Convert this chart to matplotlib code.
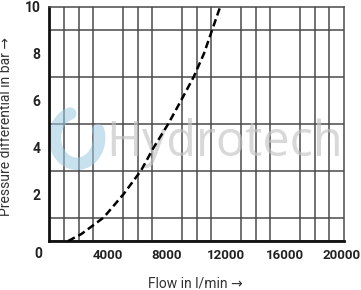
import matplotlib
matplotlib.use("Agg")
import matplotlib.pyplot as plt
import matplotlib.transforms as mtransforms
import numpy as np

flow = [1300, 2200, 3700, 5050, 6230, 7100, 8080, 8950, 9800, 10500, 11050, 11600]
pressure = [0, 0.3, 1, 2, 3, 4, 5, 6, 7, 8, 9, 10]
xticks = [4000, 8000, 12000, 16000, 20000]
yticks = [2, 4, 6, 8, 10]

fam = ['Liberation Sans Narrow', 'Roboto', 'DejaVu Sans']

fig = plt.figure(figsize=(3.61, 2.90), dpi=100)
ax = fig.add_axes([49/361, 49/290, 295/361, 234/290])
ax.set_xlim(0, 20000)
ax.set_ylim(0, 10)

ax.set_xticks(np.arange(0, 20001, 1000), minor=True)
ax.set_yticks(np.arange(0, 11, 1), minor=True)
ax.grid(which='minor', color='#4a4a4a', linewidth=1.1)
ax.set_axisbelow(True)
ax.set_xticks(xticks)
ax.set_yticks(yticks)
ax.tick_params(which='both', length=0)
ax.tick_params(axis='x', pad=6)
ax.tick_params(axis='y', pad=6)
for lab in ax.get_xticklabels():
    lab.set_family(fam)
    lab.set_fontweight('bold')
    lab.set_fontsize(9.5)
    lab.set_color('#222222')
for lab in ax.get_yticklabels():
    lab.set_family(fam)
    lab.set_fontweight('bold')
    lab.set_fontsize(10)
    lab.set_color('#222222')
last = ax.get_xticklabels()[-1]
last.set_transform(last.get_transform() +
                   mtransforms.ScaledTranslation(-2.5/100, 0, fig.dpi_scale_trans))
ax.text(-700, -0.55, '0', ha='center', va='center', fontsize=10, fontweight='bold',
        family=fam, color='#222222')

for s in ['left', 'bottom']:
    ax.spines[s].set_linewidth(2.0)
    ax.spines[s].set_color('#111111')
for s in ['top', 'right']:
    ax.spines[s].set_linewidth(1.1)
    ax.spines[s].set_color('#4a4a4a')

# watermark
ax.text(11900, 4.2, 'Hydrotech', ha='center', va='center', fontsize=35,
        color='#c4c4c4', alpha=0.65, family=['Open Sans', 'DejaVu Sans'], zorder=1)
th = np.linspace(np.pi*0.6, np.pi*2.1, 60)
ax.plot(1900 + 1500*np.cos(th), 4.4 + 1.1*np.sin(th), color='#9cc9e0', alpha=0.55,
        linewidth=9, solid_capstyle='round', zorder=1)

ax.plot(flow, pressure, color='black', linewidth=1.8, linestyle=(0, (3, 1.6)), zorder=3,
        clip_on=False)

ax.set_xlabel('Flow in l/min →', family=fam, fontsize=10, color='#333333')
ax.xaxis.set_label_coords(0.495, -0.15)
ax.set_ylabel('Pressure differential in bar →', family=fam, fontsize=10, color='#333333')
ax.yaxis.set_label_coords(-0.122, 0.49)

fig.savefig('out.png', dpi=100)
